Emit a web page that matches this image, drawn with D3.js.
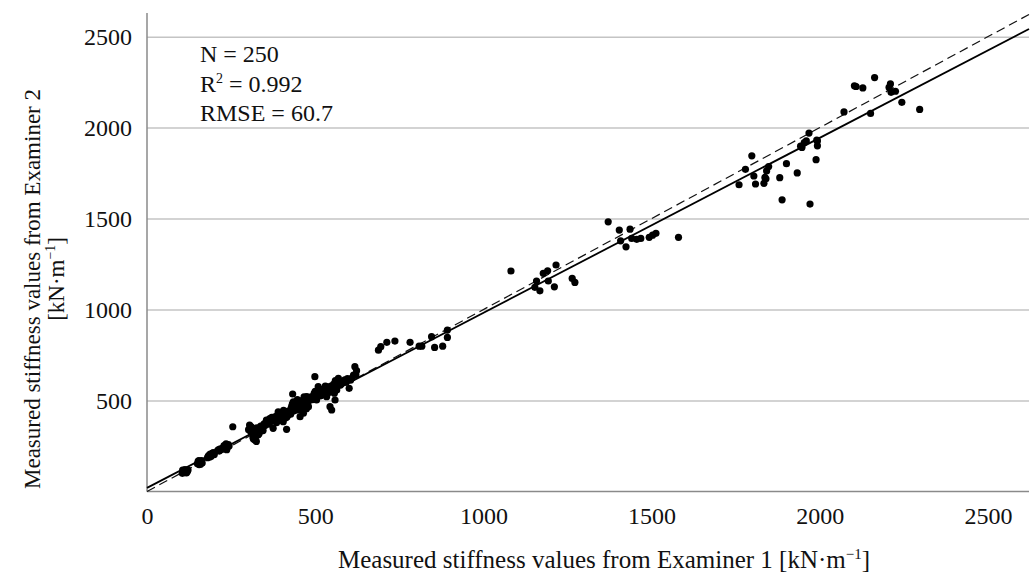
<!DOCTYPE html>
<html>
<head>
<meta charset="utf-8">
<script src="https://cdn.jsdelivr.net/npm/d3@7"></script>
<style>
  body { margin: 0; background: #fff; }
  svg { display: block; font-family: "Liberation Serif", "Times New Roman", serif; }
</style>
</head>
<body>
<div id="chart"></div>
<script>
// Measured stiffness, examiner 1 (x) and examiner 2 (y), kN/m
const examiner1 = [
  105,108,110,112,115,118,120,106,113,117,122,109,
  150,153,155,158,160,162,152,157,161,164,154,159,
  180,183,186,188,191,194,197,200,185,190,195,182,
  210,213,215,218,
  224,226,228,230,232,234,236,238,240,242,229,235,237,244,
  255,
  302,305,308,310,312,315,318,320,322,325,327,330,332,335,338,340,342,345,348,350,316,324,333,343,311,
  355,360,365,368,371,375,378,380,383,386,388,390,392,395,398,400,402,405,408,410,412,415,418,420,362,372,385,396,406,416,
  425,428,430,432,433,435,438,440,442,445,448,450,452,455,458,460,462,465,468,470,472,475,478,480,482,436,444,453,463,474,427,447,457,467,477,
  488,492,494,497,499,502,504,507,509,512,515,517,519,522,525,527,529,532,534,537,540,542,544,547,549,552,555,557,559,562,564,567,569,572,575,510,530,545,560,500,
  578,583,588,592,596,601,605,610,614,618,621,623,
  688,695,713,737,782,809,817,846,855,879,893,893,
  1082,1178,1191,1216,1158,1193,1153,1168,1211,1264,1272,
  1371,1404,1436,1408,1424,1441,1456,1468,1493,1503,1513,1580,
  1760,1779,1798,1809,1834,1840,1842,1848,1804,1881,1901,1933,1888,1971,1989,1968,1947,1954,1960,1993,1993,1837,1943,1991,
  2072,2151,2108,2128,2163,2210,2212,2225,2244,2297,2103,2206
];
const examiner2 = [
  100,108,104,112,106,115,110,117,120,102,118,113,
  152,160,148,165,158,170,166,155,162,156,170,150,
  186,195,190,205,198,210,214,203,200,192,208,193,
  225,230,222,235,
  232,240,236,245,238,250,244,255,248,258,252,262,230,250,
  356,
  340,365,330,355,338,300,345,285,320,275,350,310,340,328,360,345,355,335,372,362,290,305,318,348,325,
  392,380,400,385,408,347,395,410,402,402,420,438,415,393,425,411,398,384,418,430,405,342,440,422,370,388,378,432,446,410,
  440,455,466,480,536,493,470,458,478,448,490,485,500,411,468,475,490,430,510,503,485,521,495,466,515,442,462,472,488,455,425,505,450,520,480,
  520,505,521,540,631,515,503,545,576,530,525,560,530,550,540,565,548,555,521,575,560,545,466,580,448,570,590,540,503,578,558,595,622,600,585,535,580,560,610,550,
  592,605,613,600,620,567,612,625,640,686,640,664,
  777,796,820,827,820,799,799,851,792,799,887,847,
  1212,1199,1213,1245,1157,1157,1122,1103,1125,1171,1149,
  1482,1437,1442,1378,1345,1391,1386,1391,1397,1409,1419,1397,
  1686,1771,1845,1690,1694,1719,1762,1786,1734,1725,1802,1751,1603,1580,1824,1970,1891,1918,1927,1927,1900,1726,1898,1931,
  2086,2078,2226,2218,2275,2240,2194,2200,2139,2100,2230,2221
];

const xTicks = [0, 500, 1000, 1500, 2000, 2500];
const yTicks = [500, 1000, 1500, 2000, 2500];
const fitSlope = 0.962;
const fitIntercept = 20;
const statN = "250";
const statR2 = "0.992";
const statRMSE = "60.7";

const width = 1032, height = 575;

const svg = d3.select("#chart")
  .append("svg")
  .attr("width", width)
  .attr("height", height);

const x = d3.scaleLinear().domain([0, 2622]).range([147, 1029]);
const y = d3.scaleLinear().domain([0, 2630]).range([491.5, 13]);

// horizontal gridlines + y tick labels
const yAxis = svg.append("g")
  .attr("transform", `translate(${x(0)},0)`)
  .call(d3.axisLeft(y).tickValues(yTicks).tickFormat(d3.format("d"))
    .tickSize(-(x.range()[1] - x.range()[0])).tickPadding(15))
  .attr("font-family", null)
  .attr("font-size", 24);
yAxis.select(".domain").remove();
yAxis.selectAll(".tick line").attr("stroke", "#c4c4c4").attr("stroke-width", 1.5);
yAxis.selectAll(".tick text").attr("fill", "#111");

// x tick labels
const xAxis = svg.append("g")
  .attr("transform", `translate(0,${y(0)})`)
  .call(d3.axisBottom(x).tickValues(xTicks).tickFormat(d3.format("d")).tickSize(0).tickPadding(15))
  .attr("font-family", null)
  .attr("font-size", 24);
xAxis.select(".domain").remove();
xAxis.selectAll(".tick text").attr("fill", "#111");

// axis lines
svg.append("line")
  .attr("x1", x(0)).attr("x2", x(0))
  .attr("y1", y.range()[1]).attr("y2", y(0))
  .attr("stroke", "#8a8a8a").attr("stroke-width", 1.5);
svg.append("line")
  .attr("x1", x(0)).attr("x2", x.range()[1])
  .attr("y1", y(0)).attr("y2", y(0))
  .attr("stroke", "#8a8a8a").attr("stroke-width", 1.5);

const xMax = x.domain()[1];
const line = d3.line().x(d => x(d[0])).y(d => y(d[1]));

// 1:1 line
svg.append("path")
  .attr("d", line([[0, 0], [xMax, xMax]]))
  .attr("fill", "none")
  .attr("stroke", "#111")
  .attr("stroke-width", 1.2)
  .attr("stroke-dasharray", "9,5");

// regression line
svg.append("path")
  .attr("d", line([[0, fitIntercept], [xMax, fitIntercept + fitSlope * xMax]]))
  .attr("fill", "none")
  .attr("stroke", "#000")
  .attr("stroke-width", 1.8);

// points
svg.append("g")
  .selectAll("circle")
  .data(examiner1.map((v, i) => [v, examiner2[i]]))
  .join("circle")
  .attr("cx", d => x(d[0]))
  .attr("cy", d => y(d[1]))
  .attr("r", 3.6)
  .attr("fill", "#000");

// stats text
const stats = svg.append("g").attr("font-size", 24).attr("fill", "#111");
stats.append("text").attr("x", 200).attr("y", 62).text(`N = ${statN}`);
const r2 = stats.append("text").attr("x", 200).attr("y", 92);
r2.append("tspan").text("R");
r2.append("tspan").attr("font-size", 14).attr("dy", -9).text("2");
r2.append("tspan").attr("dy", 9).text(` = ${statR2}`);
stats.append("text").attr("x", 200).attr("y", 121).text(`RMSE = ${statRMSE}`);

// axis titles with superscript unit
function unitTitle(sel, label, size) {
  sel.append("tspan").text(label);
  sel.append("tspan").attr("font-size", size * 0.6).attr("dy", -size * 0.38).text("\u22121");
  sel.append("tspan").attr("dy", size * 0.38).text("]");
}

const xTitle = svg.append("text")
  .attr("x", 604).attr("y", 568)
  .attr("text-anchor", "middle")
  .attr("font-size", 25)
  .attr("fill", "#111");
unitTitle(xTitle, "Measured stiffness values from Examiner 1 [kN\u00b7m", 25);

const yTitle = svg.append("g").attr("transform", "rotate(-90)").attr("fill", "#111");
yTitle.append("text")
  .attr("x", -289).attr("y", 40)
  .attr("text-anchor", "middle")
  .attr("font-size", 23)
  .text("Measured stiffness values from Examiner 2");
const yUnit = yTitle.append("text")
  .attr("x", -279).attr("y", 64)
  .attr("text-anchor", "middle")
  .attr("font-size", 23);
unitTitle(yUnit, "[kN\u00b7m", 23);
</script>
</body>
</html>
